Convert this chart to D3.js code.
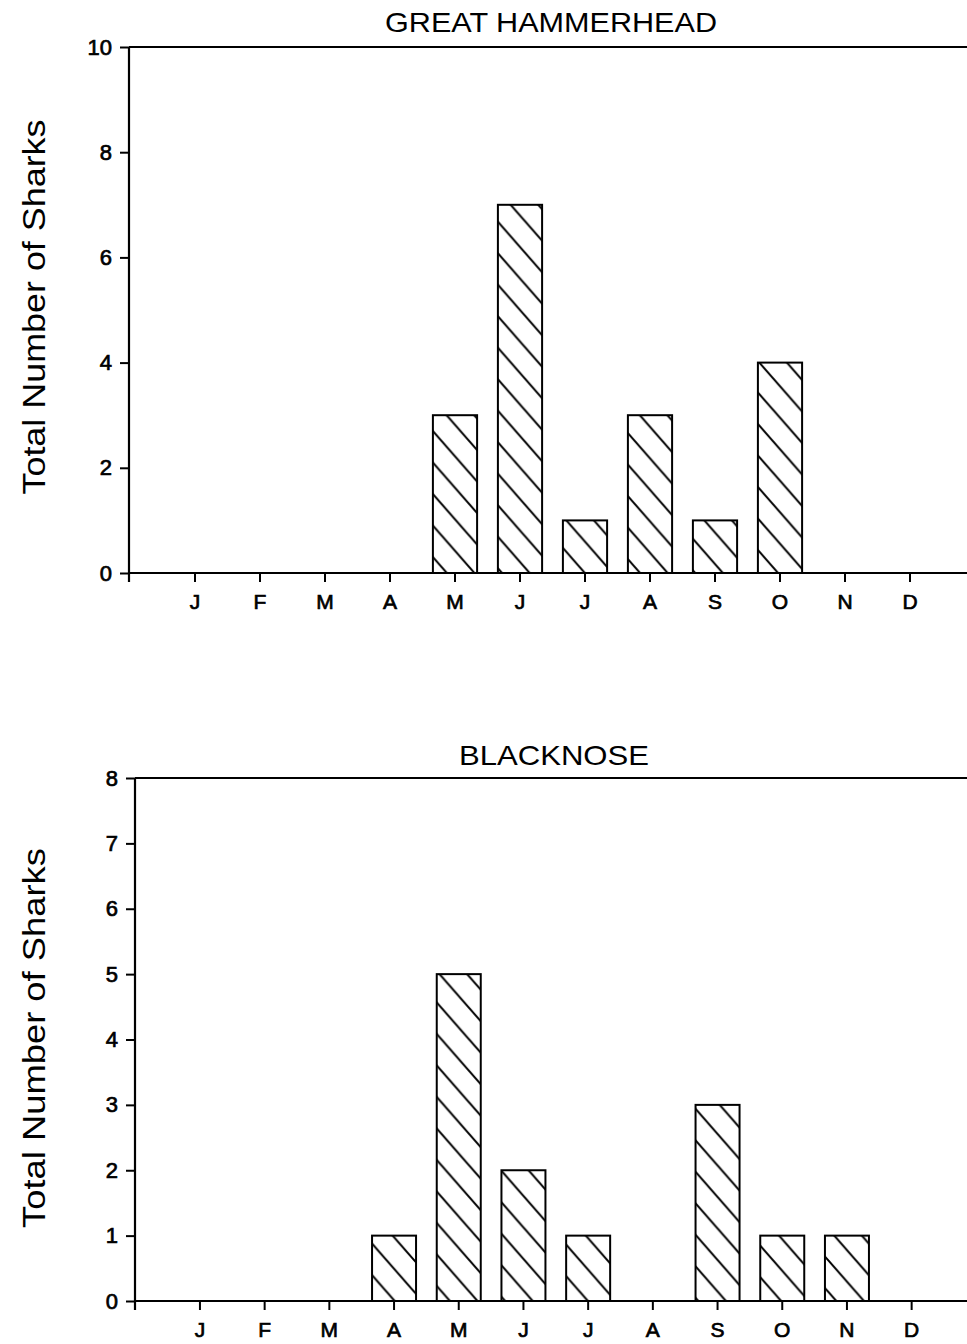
<!DOCTYPE html>
<html>
<head>
<meta charset="utf-8">
<script src="https://cdn.jsdelivr.net/npm/d3@7"></script>
<style>
  body { margin: 0; background: #fff; }
  #chart { width: 967px; height: 1344px; }
  text { font-family: "Liberation Sans", Arial, sans-serif; fill: #000; }
</style>
</head>
<body>
<div id="chart"></div>
<script>
// monthly shark counts
const monthKeys = ["Jan", "Feb", "Mar", "Apr", "May", "Jun", "Jul", "Aug", "Sep", "Oct", "Nov", "Dec"];
const monthLabels = ["J", "F", "M", "A", "M", "J", "J", "A", "S", "O", "N", "D"];

const hammerheadCounts = [0, 0, 0, 0, 3, 7, 1, 3, 1, 4, 0, 0];
const blacknoseCounts = [0, 0, 0, 1, 5, 2, 1, 0, 3, 1, 1, 0];

const hammerheadTicks = [0, 2, 4, 6, 8, 10];
const blacknoseTicks = [0, 1, 2, 3, 4, 5, 6, 7, 8];

const yLabel = "Total Number of Sharks";

const width = 967;
const height = 1344;

const svg = d3.select("#chart")
    .append("svg")
    .attr("width", width)
    .attr("height", height);

// diagonal hatch, lines running top-left to bottom-right
const hw = 27.6, hh = 31.5;
svg.append("defs")
    .append("pattern")
    .attr("id", "hatch")
    .attr("patternUnits", "userSpaceOnUse")
    .attr("width", hw)
    .attr("height", hh)
    .append("path")
    .attr("d", `M0,0L${hw},${hh}M${-hw},0L${hw},${2 * hh}M0,${-hh}L${2 * hw},${hh}`)
    .attr("stroke", "#000")
    .attr("stroke-width", 2)
    .attr("fill", "none");

function panel(opts) {
    const g = svg.append("g");

    const x = d3.scaleBand()
        .domain(monthKeys)
        .range([opts.bandStart, opts.bandStart + opts.step * 12])
        .paddingInner(0.32)
        .paddingOuter(0.16);

    const y = d3.scaleLinear()
        .domain([0, d3.max(opts.ticks)])
        .range([opts.y0, opts.yTop]);

    const rows = monthKeys.map((k, i) => ({key: k, value: opts.counts[i]}));

    // bars
    g.selectAll("rect.bar")
        .data(rows.filter(d => d.value > 0))
        .enter()
        .append("rect")
        .attr("class", "bar")
        .attr("x", d => x(d.key))
        .attr("y", d => y(d.value))
        .attr("width", x.bandwidth())
        .attr("height", d => y(0) - y(d.value))
        .attr("fill", "url(#hatch)")
        .attr("stroke", "#000")
        .attr("stroke-width", 2);

    // y axis ticks
    const yAxis = g.append("g")
        .attr("transform", `translate(${opts.x0},0)`)
        .call(d3.axisLeft(y).tickValues(opts.ticks).tickSize(9).tickPadding(8).tickFormat(d3.format("d")));
    yAxis.select(".domain").remove();
    yAxis.selectAll("line").attr("stroke-width", 2);
    yAxis.selectAll("text")
        .style("font-size", "22px")
        .attr("stroke", "#000")
        .attr("stroke-width", 0.7);

    // x axis ticks
    const xAxis = g.append("g")
        .attr("transform", `translate(0,${opts.y0})`)
        .call(d3.axisBottom(x).tickSize(9).tickPadding(12).tickFormat((d, i) => monthLabels[i]));
    xAxis.select(".domain").remove();
    xAxis.selectAll("line").attr("stroke-width", 2);
    xAxis.selectAll("text")
        .style("font-size", "21px")
        .attr("stroke", "#000")
        .attr("stroke-width", 0.7);

    // frame lines
    g.append("line")
        .attr("x1", opts.x0).attr("x2", opts.x0)
        .attr("y1", y.range()[1]).attr("y2", opts.y0 + 9)
        .attr("stroke", "#000").attr("stroke-width", 2.2);
    g.append("line")
        .attr("x1", opts.x0).attr("x2", width)
        .attr("y1", opts.y0).attr("y2", opts.y0)
        .attr("stroke", "#000").attr("stroke-width", 2.2);
    g.append("line")
        .attr("x1", opts.x0).attr("x2", width)
        .attr("y1", opts.yTop).attr("y2", opts.yTop)
        .attr("stroke", "#000").attr("stroke-width", 2);

    // title
    g.append("text")
        .attr("x", opts.titleX)
        .attr("y", opts.titleY)
        .attr("text-anchor", "middle")
        .attr("textLength", opts.titleLen)
        .attr("lengthAdjust", "spacingAndGlyphs")
        .style("font-size", "28px")
        .text(opts.title);

    // y label
    g.append("text")
        .attr("transform", `translate(45,${opts.labelY}) rotate(-90)`)
        .attr("text-anchor", "middle")
        .attr("textLength", opts.labelLen)
        .attr("lengthAdjust", "spacingAndGlyphs")
        .style("font-size", "31px")
        .text(yLabel);
}

panel({
    title: "GREAT HAMMERHEAD",
    counts: hammerheadCounts,
    ticks: hammerheadTicks,
    x0: 129, y0: 573, yTop: 47,
    bandStart: 162.5, step: 65,
    titleX: 551, titleY: 32, titleLen: 332,
    labelY: 307, labelLen: 375
});

panel({
    title: "BLACKNOSE",
    counts: blacknoseCounts,
    ticks: blacknoseTicks,
    x0: 135, y0: 1301, yTop: 778,
    bandStart: 167.6, step: 64.7,
    titleX: 554, titleY: 765, titleLen: 190,
    labelY: 1038, labelLen: 380
});
</script>
</body>
</html>
